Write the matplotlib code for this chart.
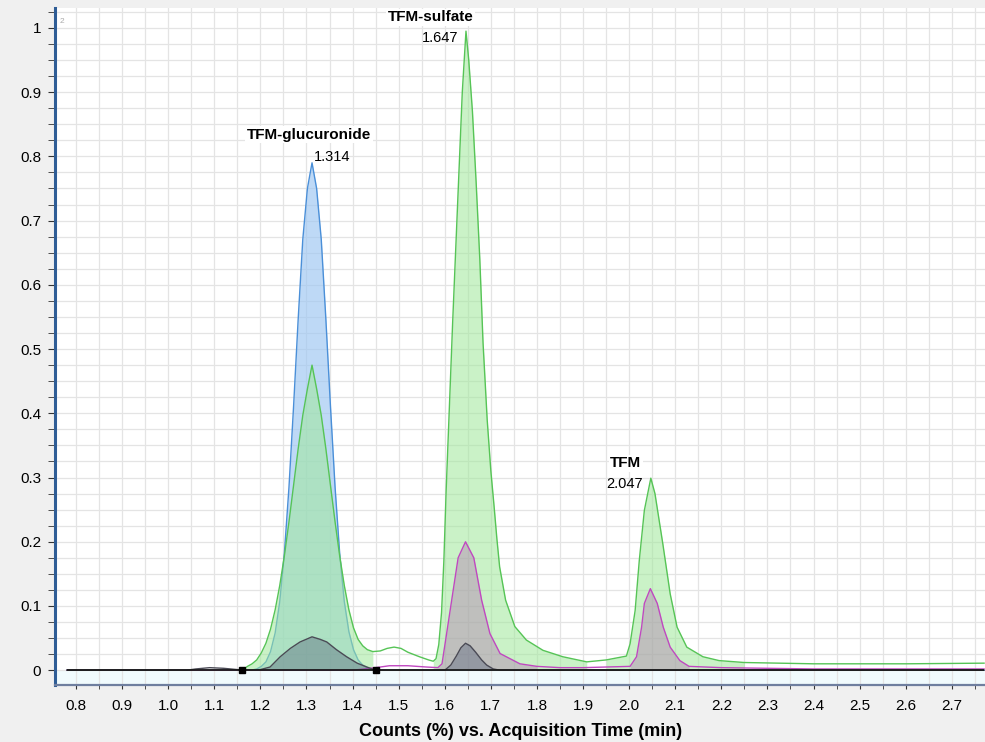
import matplotlib

matplotlib.use("Agg")
import matplotlib.pyplot as plt
import numpy as np
from matplotlib.ticker import MultipleLocator

plt.rcParams["font.family"] = ["Liberation Sans", "DejaVu Sans"]

# Green trace (TFM family, broadest signal)
green_t = [0.78, 1.10, 1.16, 1.172, 1.182, 1.192, 1.202, 1.212, 1.222, 1.232, 1.242, 1.252,
           1.262, 1.272, 1.282, 1.292, 1.302, 1.312, 1.322, 1.332, 1.342, 1.352, 1.362,
           1.372, 1.382, 1.392, 1.402, 1.412, 1.422, 1.432, 1.444, 1.460, 1.475, 1.490,
           1.505, 1.520, 1.545, 1.565, 1.575, 1.581, 1.587, 1.593, 1.598, 1.603, 1.610,
           1.617, 1.624, 1.631, 1.638, 1.646, 1.652, 1.660, 1.668, 1.676, 1.683, 1.692,
           1.700, 1.707, 1.713, 1.719, 1.732, 1.752, 1.777, 1.813, 1.856, 1.908, 1.950,
           1.994, 2.002, 2.013, 2.022, 2.033, 2.047, 2.056, 2.073, 2.089, 2.104, 2.125,
           2.160, 2.195, 2.250, 2.400, 2.600, 2.770]
green_v = [0.000, 0.000, 0.000, 0.006, 0.010, 0.016, 0.027, 0.042, 0.064, 0.094, 0.132, 0.178,
           0.231, 0.288, 0.345, 0.397, 0.438, 0.475, 0.438, 0.397, 0.345, 0.288, 0.231,
           0.178, 0.132, 0.094, 0.066, 0.048, 0.038, 0.032, 0.029, 0.030, 0.034, 0.036,
           0.034, 0.028, 0.021, 0.016, 0.014, 0.018, 0.040, 0.090, 0.170, 0.280, 0.410,
           0.540, 0.660, 0.780, 0.900, 0.995, 0.950, 0.870, 0.760, 0.640, 0.510, 0.390,
           0.310, 0.255, 0.205, 0.161, 0.109, 0.068, 0.047, 0.031, 0.021, 0.013, 0.016,
           0.022, 0.041, 0.093, 0.171, 0.249, 0.299, 0.275, 0.197, 0.119, 0.067, 0.036,
           0.021, 0.015, 0.012, 0.010, 0.010, 0.011]

# Blue trace (glucuronide transition)
blue_t = [0.78, 1.18, 1.192, 1.202, 1.212, 1.222, 1.232, 1.242, 1.252, 1.262, 1.272, 1.282,
          1.292, 1.302, 1.312, 1.322, 1.332, 1.342, 1.352, 1.362, 1.372, 1.382, 1.392,
          1.402, 1.412, 1.422, 1.432, 1.450, 2.770]
blue_v = [0.000, 0.000, 0.002, 0.006, 0.013, 0.029, 0.058, 0.107, 0.182, 0.285, 0.411, 0.547,
          0.671, 0.750, 0.790, 0.750, 0.671, 0.547, 0.411, 0.285, 0.182, 0.107, 0.060,
          0.032, 0.016, 0.008, 0.004, 0.000, 0.000]

# Magenta trace
pink_t = [0.78, 1.40, 1.45, 1.48, 1.52, 1.56, 1.585, 1.594, 1.604, 1.615, 1.629, 1.645,
          1.663, 1.680, 1.698, 1.720, 1.763, 1.80, 1.85, 1.90, 1.95, 2.002, 2.016, 2.027,
          2.033, 2.046, 2.061, 2.074, 2.089, 2.110, 2.130, 2.20, 2.40, 2.77]
pink_v = [0.000, 0.000, 0.004, 0.007, 0.007, 0.005, 0.004, 0.010, 0.057, 0.109, 0.175, 0.200,
          0.175, 0.109, 0.057, 0.026, 0.010, 0.006, 0.004, 0.004, 0.005, 0.006, 0.021, 0.067,
          0.104, 0.127, 0.104, 0.067, 0.036, 0.015, 0.006, 0.004, 0.002, 0.002]

# Gray trace
gray_t = [0.78, 1.04, 1.06, 1.09, 1.12, 1.15, 1.16, 1.20, 1.221, 1.243, 1.265, 1.286, 1.312,
          1.330, 1.344, 1.365, 1.387, 1.410, 1.431, 1.45, 1.60, 1.613, 1.625, 1.635, 1.645,
          1.655, 1.667, 1.680, 1.691, 1.705, 1.72, 2.77]
gray_v = [0.000, 0.000, 0.002, 0.004, 0.003, 0.001, 0.000, 0.001, 0.005, 0.021, 0.034, 0.044,
          0.052, 0.048, 0.044, 0.032, 0.021, 0.011, 0.005, 0.000, 0.000, 0.008, 0.022, 0.035,
          0.042, 0.038, 0.028, 0.016, 0.008, 0.002, 0.000, 0.000]

# integration windows (start, end) per trace
green_windows = [(1.16, 1.45), (1.575, 1.93), (1.95, 2.26)]
blue_windows = [(1.16, 1.45)]
pink_windows = [(1.58, 1.80), (1.98, 2.15)]
gray_windows = [(1.16, 1.45), (1.59, 1.72)]
integration_marks = [1.16, 1.45]

peak_names = ["TFM-glucuronide", "TFM-sulfate", "TFM"]
peak_times = [1.314, 1.647, 2.047]
peak_heights = [0.790, 0.995, 0.299]
# pixel offsets: (name dx, name dy, number dx, number dy, number alignment)
label_offsets = [(-4, 28, 1, 6, "left"), (-36, 14, -8, -7, "right"), (-25, 15, -8, -6, "right")]

fig = plt.figure(figsize=(9.85, 7.42), dpi=100, facecolor="#f0f0f0")
ax = fig.add_axes([55 / 985, 57 / 742, 930 / 985, 677 / 742])
ax.set_facecolor("white")
ax.set_xlim(0.7544, 2.772)
ax.set_ylim(-0.023, 1.031)

ax.xaxis.set_major_locator(MultipleLocator(0.1))
ax.xaxis.set_minor_locator(MultipleLocator(0.05))
ax.yaxis.set_major_locator(MultipleLocator(0.1))
ax.yaxis.set_minor_locator(MultipleLocator(0.025))
ax.grid(True, which="both", color="#e4e4e4", linewidth=0.9, zorder=0)
ax.set_axisbelow(True)
ax.axhspan(-0.023, 0, color="#f1fbfd", zorder=0.5, lw=0)

ax.xaxis.set_major_formatter(plt.FuncFormatter(lambda v, p: f"{v:.1f}"))
ax.yaxis.set_major_formatter(plt.FuncFormatter(lambda v, p: f"{v:g}"))
ax.tick_params(axis="both", which="both", direction="out", colors="#333333", labelsize=11)
ax.tick_params(axis="y", which="both", length=5, pad=5)
ax.tick_params(axis="x", which="both", length=3, pad=7)
ax.tick_params(labelcolor="black")

for s in ["top", "right"]:
    ax.spines[s].set_visible(False)
ax.spines["left"].set_color("#2f5d96")
ax.spines["left"].set_linewidth(2.2)
ax.spines["bottom"].set_color("#6f7f9f")
ax.spines["bottom"].set_linewidth(1.6)


def draw_trace(t, v, windows, line_color, fill_color, alpha, z):
    t = np.asarray(t)
    v = np.asarray(v)
    for a, b in windows:
        m = (t >= a) & (t <= b)
        ax.fill_between(t[m], 0, v[m], color=fill_color, alpha=alpha, lw=0, zorder=z)
    ax.plot(t, v, color=line_color, lw=1.0, zorder=z + 0.5)


draw_trace(blue_t, blue_v, blue_windows, "#4a8fd8", "#9cc6f2", 0.65, 2)
draw_trace(green_t, green_v, green_windows, "#56c456", "#9fe89a", 0.55, 3)
draw_trace(pink_t, pink_v, pink_windows, "#c048c0", "#b07ab0", 0.42, 4)
draw_trace(gray_t, gray_v, gray_windows, "#4a4a55", "#55607a", 0.40, 5)

ax.hlines(0, green_t[0], green_t[-1], color="#1a1a1a", lw=1.3, zorder=7)
ax.plot(integration_marks, [0] * len(integration_marks), "s", color="black", ms=4.5, zorder=8)

for name, t, h, (ndx, ndy, vdx, vdy, ha) in zip(peak_names, peak_times, peak_heights, label_offsets):
    ax.annotate(name, xy=(t, h), xytext=(ndx, ndy), textcoords="offset pixels",
                ha="center", va="center", fontsize=11, fontweight="bold",
                bbox=dict(boxstyle="square,pad=0.1", fc="white", ec="none"), zorder=10)
    ax.annotate(f"{t:.3f}", xy=(t, h), xytext=(vdx, vdy), textcoords="offset pixels",
                ha=ha, va="center", fontsize=10.5, zorder=10)

ax.text(0.005, 0.985, "2", transform=ax.transAxes, fontsize=6, color="#aaaaaa", va="top")
fig.text(0.528, 0.0148, "Counts (%) vs. Acquisition Time (min)", ha="center", va="center",
         fontsize=13, fontweight="bold")

fig.savefig("out.png", dpi=100, facecolor=fig.get_facecolor())
